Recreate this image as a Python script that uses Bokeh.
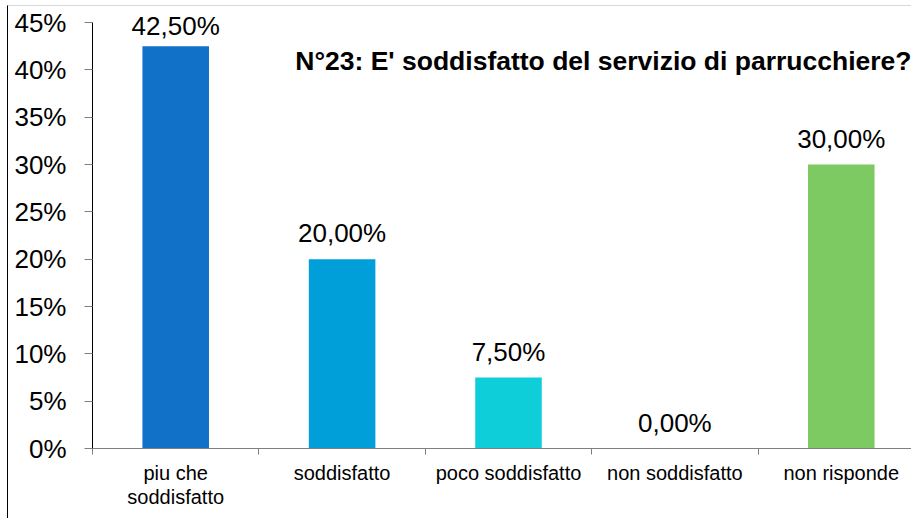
from bokeh.plotting import figure
from bokeh.models import ColumnDataSource, FixedTicker, PrintfTickFormatter, LabelSet, Label, Range1d
from bokeh.core.properties import value
from bokeh.embed import file_html
from bokeh.resources import INLINE

categories = ["piu che\nsoddisfatto", "soddisfatto", "poco soddisfatto", "non soddisfatto", "non risponde"]
values = [42.5, 20.0, 7.5, 0.0, 30.0]
colors = ["#1170C7", "#019FDA", "#0ECFD9", "#0ECFD9", "#7DCA62"]
y_ticks = [0, 5, 10, 15, 20, 25, 30, 35, 40, 45]
title_text = "N°23: E' soddisfatto del servizio di parrucchiere?"

FONT = "Liberation Sans"
Y_MAX = 45
AXIS_H = 426    # px from 0% to 45%
FRAME_H = 442   # px of drawable area (extra room above 45% for the top label)

centers = [i + 0.5 for i in range(len(categories))]
labels = [f"{v:.2f}".replace(".", ",") + "%" for v in values]
px_per_unit = AXIS_H / Y_MAX
label_offsets = [min(17, (Y_MAX - v) * px_per_unit - 12.5) for v in values]

src = ColumnDataSource(dict(x=centers, top=values, color=colors, label=labels, off=label_offsets))

p = figure(width=904, height=513, output_backend="svg", toolbar_location=None,
           x_range=Range1d(0, 4.928), y_range=Range1d(0, Y_MAX * FRAME_H / AXIS_H),
           min_border_left=84, min_border_right=0, min_border_top=0, min_border_bottom=71)
p.styles = {"margin-left": "7px", "margin-top": "5px",
            "border-left": "1px solid #000000", "border-top": "1px solid #d8d8d8"}
p.outline_line_color = None
p.xgrid.visible = False
p.ygrid.visible = False
p.background_fill_color = "white"
p.border_fill_color = "white"

p.vbar(x="x", top="top", width=0.4, bottom=0, color="color", line_color=None, source=src)

# x axis
p.xaxis.ticker = FixedTicker(ticks=centers, minor_ticks=list(range(len(categories) + 1)))
p.xaxis.major_label_overrides = {c: lab for c, lab in zip(centers, categories)}
p.xaxis.major_tick_out = 0
p.xaxis.major_tick_in = 0
p.xaxis.minor_tick_out = 6
p.xaxis.minor_tick_in = 0
p.xaxis.minor_tick_line_color = "#7f7f7f"
p.xaxis.axis_line_color = "#7f7f7f"
p.xaxis.major_label_text_font = FONT
p.xaxis.major_label_text_font_size = "20px"
p.xaxis.major_label_text_color = "black"
p.xaxis.major_label_text_line_height = 1.1
p.xaxis.major_label_standoff = 7

# y axis
p.yaxis.ticker = FixedTicker(ticks=y_ticks, minor_ticks=[])
p.yaxis.bounds = (0, Y_MAX)
p.yaxis.formatter = PrintfTickFormatter(format="%d%%")
p.yaxis.major_tick_out = 8
p.yaxis.major_tick_in = 0
p.yaxis.major_tick_line_color = "#7f7f7f"
p.yaxis.axis_line_color = "black"
p.yaxis.major_label_text_font = FONT
p.yaxis.major_label_text_font_size = "26px"
p.yaxis.major_label_text_color = "black"
p.yaxis.major_label_standoff = 18

lbls = LabelSet(x="x", y="top", text="label", source=src, text_align="center",
                text_baseline="alphabetic", y_offset="off", text_font=value(FONT),
                text_font_size="26px", text_color="black")
p.add_layout(lbls)

p.add_layout(Label(x=4.922, y=40.9, text=title_text, text_align="right",
                   text_baseline="alphabetic", text_font=FONT, text_font_size="26.5px",
                   text_font_style="bold", text_color="black"))

open("out.html", "w").write(file_html(p, INLINE))
